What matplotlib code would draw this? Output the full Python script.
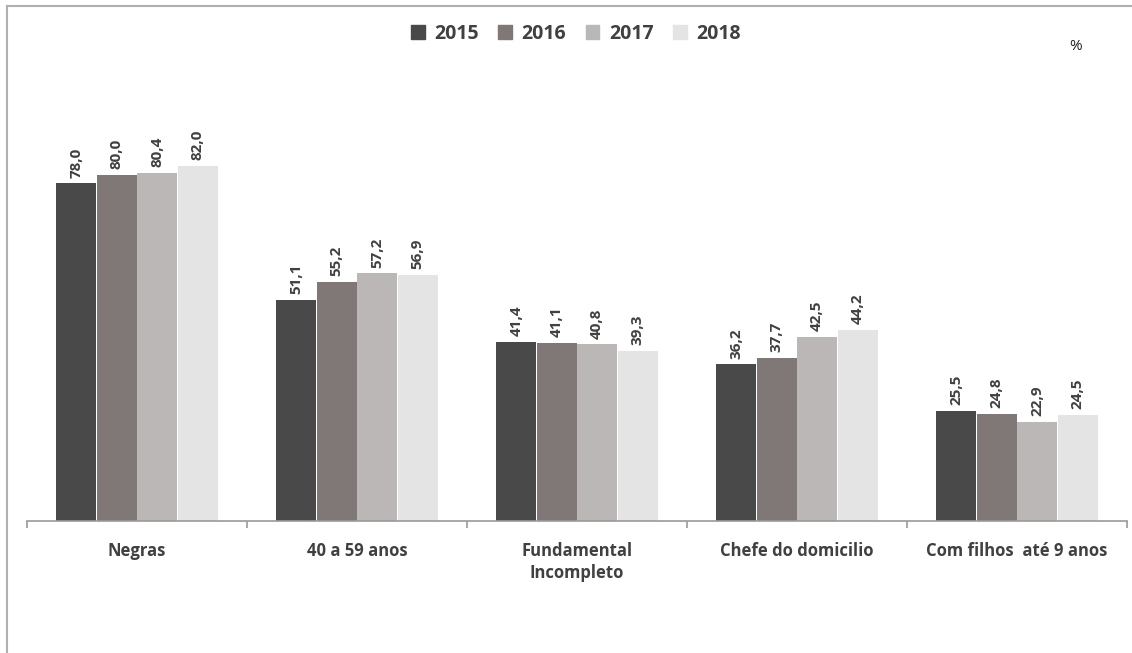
import matplotlib
matplotlib.use("Agg")
import matplotlib.pyplot as plt
import numpy as np
from matplotlib.lines import Line2D

categories = ["Negras", "40 a 59 anos", "Fundamental\nIncompleto", "Chefe do domicilio", "Com filhos  até 9 anos"]
years = ["2015", "2016", "2017", "2018"]
v2015 = [78.0, 51.1, 41.4, 36.2, 25.5]
v2016 = [80.0, 55.2, 41.1, 37.7, 24.8]
v2017 = [80.4, 57.2, 40.8, 42.5, 22.9]
v2018 = [82.0, 56.9, 39.3, 44.2, 24.5]
series = [v2015, v2016, v2017, v2018]
colors = ["#494949", "#7f7877", "#bbb7b6", "#e4e4e4"]

plt.rcParams['font.family'] = ['Open Sans', 'DejaVu Sans']
text_color = "#404040"

fig = plt.figure(figsize=(11.32, 6.53), dpi=100)
ax = fig.add_axes([27/1132, 132/653, 1100/1132, (521-88)/653])

x = np.arange(len(categories))
w = 0.184
for i, (vals, c, yr) in enumerate(zip(series, colors, years)):
    pos = x + (i - 1.5) * w
    bars = ax.bar(pos, vals, width=w*0.98, color=c, label=yr, zorder=2)
    for b, v in zip(bars, vals):
        ax.annotate(f"{v:.1f}".replace(".", ","), (b.get_x() + b.get_width()/2, v),
                    xytext=(0, 4), textcoords="offset points", rotation=90,
                    ha="center", va="bottom", fontsize=11, fontweight="bold",
                    color=text_color)

ax.set_xlim(-0.5, len(categories) - 0.5)
ax.set_ylim(0, 100)
ax.set_yticks([])
for s in ["top", "right", "left"]:
    ax.spines[s].set_visible(False)
ax.spines["bottom"].set_color("#9a9a9a")
ax.spines["bottom"].set_linewidth(1.2)
ax.set_xticks(x)
ax.set_xticklabels(categories, fontsize=12, fontweight="bold", color=text_color, linespacing=1.3)
ax.tick_params(axis="x", which="major", length=0, pad=15)
ax.set_xticks(np.arange(-0.5, len(categories)), minor=True)
ax.tick_params(axis="x", which="minor", length=5, color="#9a9a9a", width=1.2)

handles = [plt.Rectangle((0, 0), 1, 1, color=c) for c in colors]
fig.legend(handles, years, loc="center", bbox_to_anchor=(576/1132, 1 - 34/653), ncol=4,
           frameon=False, prop={'weight': 'bold', 'size': 14}, handlelength=0.7,
           handleheight=0.7, columnspacing=1.0, handletextpad=0.5, labelcolor=text_color)

fig.text(1076/1132, 1 - 47/653, "%", ha="center", va="center", fontsize=11, color="#202020")

# outer border (left and top)
fig.add_artist(Line2D([7/1132, 7/1132], [0, 1 - 6/653], transform=fig.transFigure, color="#b0b0b0", lw=1.5))
fig.add_artist(Line2D([7/1132, 1], [1 - 6/653, 1 - 6/653], transform=fig.transFigure, color="#b0b0b0", lw=1.5))

fig.savefig("out.png", dpi=100)
